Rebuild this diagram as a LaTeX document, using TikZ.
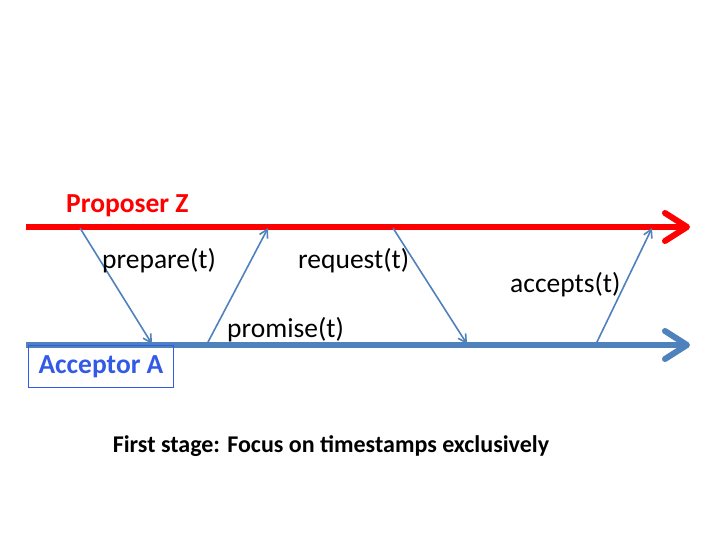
\documentclass[tikz,border=0pt]{standalone}
\usepackage{fontspec}
\setmainfont{Carlito}
\usetikzlibrary{positioning, calc, arrows.meta}
\definecolor{propred}{RGB}{255,0,0}
\definecolor{lineblue}{RGB}{79,129,189}
\definecolor{accblue}{RGB}{51,90,230}

\begin{document}
\begin{tikzpicture}[x = 1pt, y = -1pt]
\useasboundingbox (0, 0) rectangle (720, 540);
\begin{scope}[
	timeline/.style={
		line width=6pt,
		-{Straight Barb[length=22pt, width=28pt, line cap=round, line join=round]}
	},
	msg/.style={
		draw=lineblue, line width=1.6pt,
		-{Straight Barb[length=8pt, width=9pt]}
	},
	lbl/.style={font=\fontsize{27.5}{33}\selectfont, inner sep=0pt, anchor=base west}
]
\coordinate (Z-start) at (26, 227);
\coordinate (Z-end) at (690, 227);
\coordinate (A-start) at (26, 345);
\coordinate (A-end) at (690, 345);
\draw[timeline, draw=propred] (Z-start) -- (Z-end);
\draw[timeline, draw=lineblue] (A-start) -- (A-end);
% sender / receiver points on the two lines
\foreach \msgname/\zx/\ax in {prepare/80/152, promise/268/207, request/393/467, accepts/652/596} {
	\coordinate (Z-\msgname) at (\zx, 228);
	\coordinate (A-\msgname) at (\ax, 344);
}
\draw[msg] (Z-prepare) -- (A-prepare);
\draw[msg] (A-promise) -- (Z-promise);
\draw[msg] (Z-request) -- (A-request);
\draw[msg] (A-accepts) -- (Z-accepts);
\node[lbl] (prepare-lbl) at (102, 268) {prepare(t)};
\node[lbl] (promise-lbl) at (227, 337) {promise(t)};
\node[lbl] (request-lbl) at (298, 268) {request(t)};
\node[lbl] (accepts-lbl) at (510, 292) {accepts(t)};
\node[lbl, text=propred, font=\fontsize{27.5}{33}\selectfont\bfseries] (proposer) at (66, 213) {Proposer Z};
\node[text=accblue, font=\fontsize{27.5}{33}\selectfont\bfseries,
	minimum width=144pt, minimum height=41pt, inner sep=0pt] (acceptor) at (101, 366.5) {Acceptor A};
\draw[draw=accblue, line width=1.2pt] (acceptor.north west) rectangle (acceptor.south east);
\node[font=\fontsize{24}{29}\selectfont\bfseries] (caption) at (331, 446) {First stage: Focus on timestamps exclusively};
\end{scope}
\end{tikzpicture}
\end{document}
